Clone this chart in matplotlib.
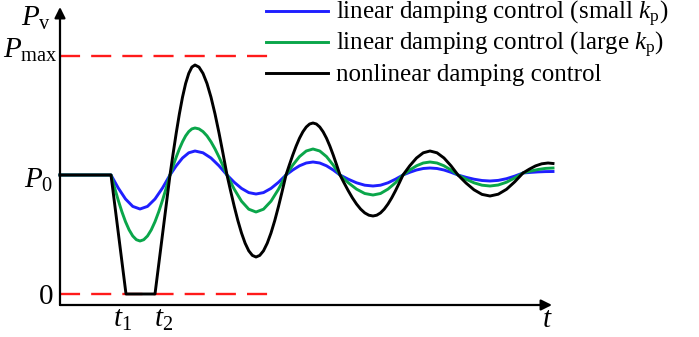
import matplotlib
matplotlib.use("Agg")
import matplotlib.pyplot as plt
from matplotlib.lines import Line2D

plt.rcParams['font.family'] = ['Liberation Serif', 'DejaVu Serif']
plt.rcParams['mathtext.fontset'] = 'custom'
plt.rcParams['mathtext.rm'] = 'Liberation Serif'
plt.rcParams['mathtext.it'] = 'Liberation Serif:italic'

# levels (arbitrary units)
P0 = 119
PMAX = 238
T1 = 66
T2 = 95
T_END = 492

# nonlinear damping control
t_black = [0, 51, 66, 95, 110,
           113.125, 116.25, 119.375, 122.5, 125.625, 128.75, 131.875, 135,
           139, 143, 147, 151, 155, 159, 163, 167,
           170.625, 174.25, 177.875, 181.5, 185.125, 188.75, 192.375, 196,
           199.75, 203.5, 207.25, 211, 214.75, 218.5, 222.25, 226,
           229.375, 232.75, 236.125, 239.5, 242.875, 246.25, 249.625, 253,
           256.375, 259.75, 263.125, 266.5, 269.875, 273.25, 276.625, 280,
           284.125, 288.25, 292.375, 296.5, 300.625, 304.75, 308.875, 313,
           316.75, 320.5, 324.25, 328, 331.75, 335.5, 339.25, 343,
           349.75, 356.5, 363.25, 370, 377, 384, 391, 398, 406, 414, 422, 430,
           438.25, 446.5, 454.75, 463, 469.25, 475.5, 481.75, 488, 493]
p_black = [119, 119, 0, 0, 119,
           140.5, 161.1, 180.1, 196.8, 210.5, 220.6, 226.9, 229,
           226.9, 220.6, 210.5, 196.8, 180.1, 161.1, 140.5, 119,
           103.0, 87.6, 73.4, 61.0, 50.8, 43.2, 38.6, 37,
           38.6, 43.2, 50.8, 61.0, 73.4, 87.6, 103.0, 119,
           129.1, 138.9, 147.9, 155.8, 162.2, 167.0, 170.0, 171,
           170.0, 167.0, 162.2, 155.8, 147.9, 138.9, 129.1, 119,
           111.0, 103.3, 96.2, 90.0, 84.9, 81.1, 78.8, 78,
           78.8, 81.1, 84.9, 90.0, 96.2, 103.3, 111.0, 119,
           128.2, 136, 141.2, 143, 141.2, 136, 128.2, 119, 111, 104.2, 99.6, 98,
           99.8, 104.7, 112.2, 121, 124.8, 128.1, 130.2, 131, 130.5]

# linear damping control, large kp
t_large = [0, 51, 54.625, 58.25, 61.875, 65.5, 69.125, 72.75, 76.375, 80,
           83.75, 87.5, 91.25, 95, 98.75, 102.5, 106.25, 110,
           113.125, 116.25, 119.375, 122.5, 125.625, 128.75, 131.875, 135,
           139, 143, 147, 151, 155, 159, 163, 167,
           174.25, 181.5, 188.75, 196, 203.5, 211, 218.5, 226, 232.75, 239.5,
           246.25, 253, 259.75, 266.5, 273.25, 280, 288.25, 296.5, 304.75, 313,
           320.5, 328, 335.5, 343, 349.75, 356.5, 363.25, 370, 377, 384, 391,
           398, 406, 414, 422, 430, 438.25, 446.5, 454.75, 463, 470.5, 478,
           485.5, 493]
p_large = [119, 119, 106.1, 93.7, 82.3, 72.3, 64.1, 58.0, 54.3, 53,
           54.3, 58.0, 64.1, 72.3, 82.3, 93.7, 106.1, 119,
           128.2, 137.0, 145.1, 152.2, 158.1, 162.4, 165.1, 166,
           165.1, 162.4, 158.1, 152.2, 145.1, 137.0, 128.2, 119,
           104.8, 92.8, 84.8, 82, 84.8, 92.8, 104.8, 119,
           128.9, 137.4, 143, 145, 143, 137.4, 128.9, 119,
           111.3, 104.9, 100.5, 99, 100.5, 104.9, 111.3, 119,
           124, 128.2, 131, 132, 131, 128.2, 124, 119,
           114.8, 111.2, 108.8, 108, 109, 111.8, 116, 121,
           122.9, 124.5, 125.6, 126]

# linear damping control, small kp
t_small = [0, 51, 58.25, 65.5, 72.75, 80, 87.5, 95, 102.5, 110, 116.25, 122.5,
           128.75, 135, 143, 151, 159, 167, 174.25, 181.5, 188.75, 196, 203.5,
           211, 218.5, 226, 232.75, 239.5, 246.25, 253, 259.75, 266.5, 273.25,
           280, 288.25, 296.5, 304.75, 313, 320.5, 328, 335.5, 343, 349.75,
           356.5, 363.25, 370, 377, 384, 391, 398, 406, 414, 422, 430, 438.25,
           446.5, 454.75, 463, 470.5, 478, 485.5, 493]
p_small = [119, 119, 106, 95, 87.6, 85, 87.6, 95, 106, 119,
           128.2, 136, 141.2, 143, 141.2, 136, 128.2, 119,
           111.7, 105.6, 101.4, 100, 101.4, 105.6, 111.7, 119,
           124, 128.2, 131, 132, 131, 128.2, 124, 119,
           114.8, 111.2, 108.8, 108, 108.8, 111.2, 114.8, 119,
           121.7, 124, 125.5, 126, 125.5, 124, 121.7, 119,
           116.7, 114.8, 113.5, 113, 113.6, 115.3, 117.9, 121,
           121.6, 122.1, 122.4, 122.5]

labels = ["linear damping control (small $k_\\mathrm{p}$)",
          "linear damping control (large $k_\\mathrm{p}$)",
          "nonlinear damping control"]
colors = ["#1f1fff", "#0aa64a", "black"]

W, H = 699, 337
fig = plt.figure(figsize=(W / 100, H / 100), dpi=100)
ax = fig.add_axes([60 / W, (H - 305) / H, (552 - 60) / W, (305 - 7) / H])
ax.set_xlim(0, T_END)
ax.set_ylim(-11, 287)
ax.axis("off")

red = "#ff1a1a"
ax.plot([0, 208], [PMAX, PMAX], color=red, lw=1.7, dashes=(8.5, 4.7), clip_on=False)
ax.plot([0, 210], [0, 0], color=red, lw=1.7, dashes=(8.5, 4.7), clip_on=False)

ax.plot(t_small, p_small, color=colors[0], lw=2.1, clip_on=False)
ax.plot(t_large, p_large, color=colors[1], lw=2.1, clip_on=False)
ax.plot(t_black, p_black, color=colors[2], lw=2.1, clip_on=False)

# axes with arrow heads
arrow = dict(arrowstyle="-|>", lw=1.6, color="black", mutation_scale=16,
             shrinkA=0, shrinkB=0)
ax.annotate("", xy=(T_END, -11), xytext=(0, -11), arrowprops=arrow,
            annotation_clip=False)
ax.annotate("", xy=(0, 287), xytext=(0, -11), arrowprops=arrow,
            annotation_clip=False)

fs = 21
ax.text(-9, 268, "$P_\\mathrm{v}$", fontsize=fs, ha="right", va="baseline")
ax.text(-2, 236, "$P_\\mathrm{max}$", fontsize=fs, ha="right", va="baseline")
ax.text(-7, 106, "$P_0$", fontsize=fs, ha="right", va="baseline")
ax.text(-7, -10, "$0$", fontsize=fs, ha="right", va="baseline")
ax.text(T1 - 3.5, -33, "$t_1$", fontsize=fs, ha="center", va="baseline")
ax.text(T2 + 8.5, -33, "$t_2$", fontsize=fs, ha="center", va="baseline")
ax.text(487.5, -33, "$t$", fontsize=fs, ha="center", va="baseline")

# legend drawn by hand in pixel positions
for i, (lab, col) in enumerate(zip(labels, colors)):
    y = 11 + 31 * i
    fig.add_artist(Line2D([266 / W, 328 / W], [1 - y / H, 1 - y / H],
                          color=col, lw=2.1))
    fig.text(336 / W, 1 - (y + 8) / H, lab, fontsize=18,
             ha="left", va="baseline")

fig.savefig("out.png", dpi=100)
